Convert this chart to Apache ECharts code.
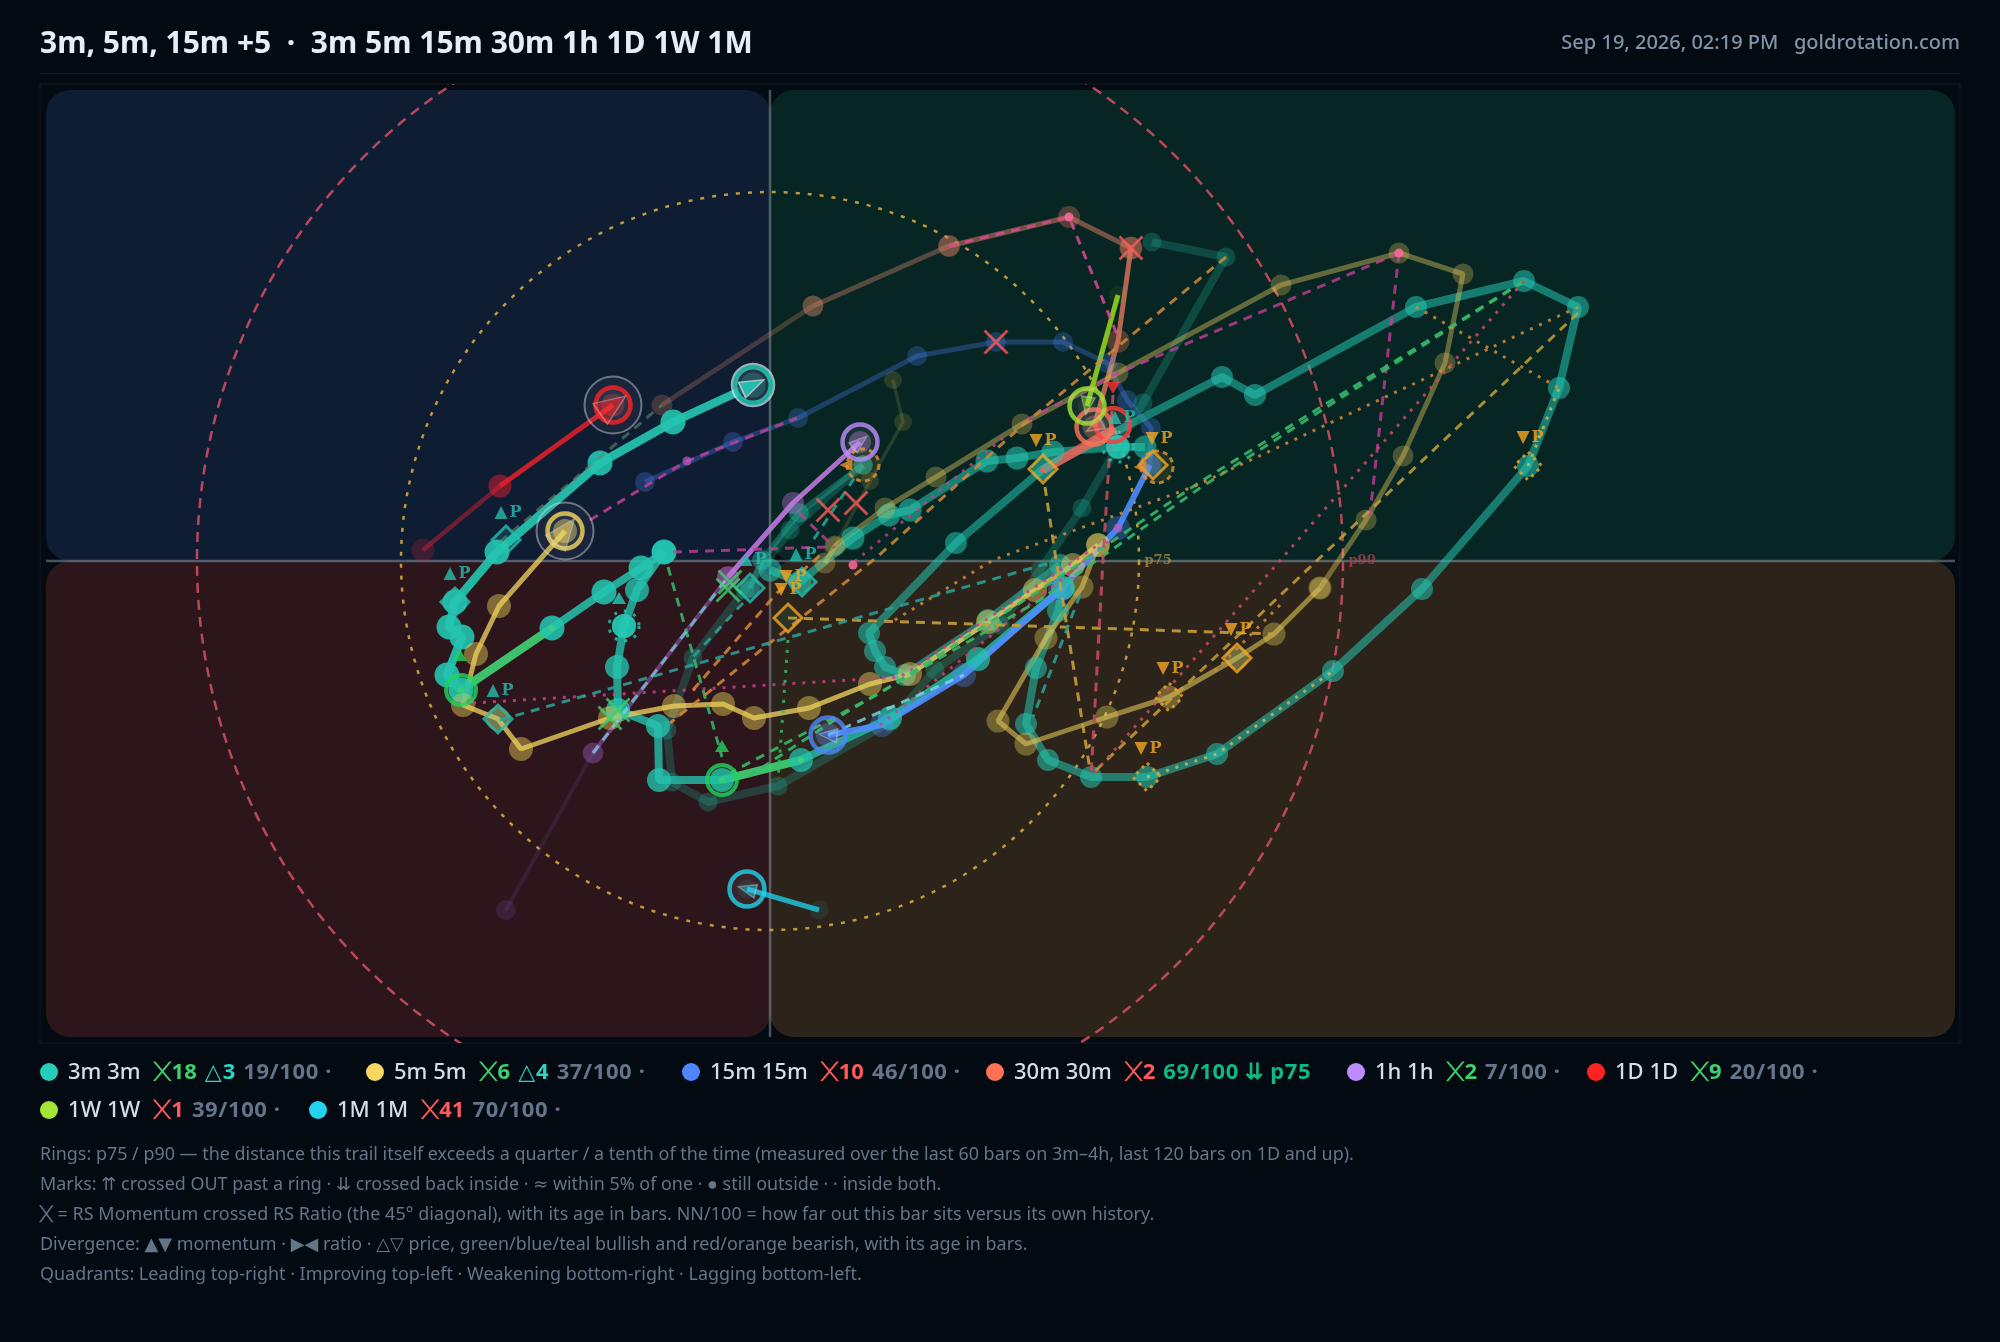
<!DOCTYPE html>
<html><head><meta charset="utf-8">
<script src="https://cdn.jsdelivr.net/npm/echarts@6/dist/echarts.min.js"></script>
<style>
html,body{margin:0;padding:0;background:#030a12;width:2000px;height:1342px;overflow:hidden;font-family:"Noto Sans",sans-serif}
#chart{position:absolute;left:0;top:0;width:2000px;height:1342px}
.t{position:absolute;white-space:pre}
#title{left:40px;top:22px;font-size:30px;font-weight:700;color:#e6edf7;line-height:40px}
#meta{right:40px;top:27px;font-size:20px;color:#8194a9;line-height:30px;font-weight:500}
#rule{position:absolute;left:40px;top:73px;width:1920px;height:1px;background:#10171f}
.leg{font-size:22px;line-height:30px;font-weight:500;color:#d5dde8}
.leg i{display:inline-block;width:18px;height:18px;border-radius:50%;margin-right:10px;vertical-align:-2px}
.leg b{font-weight:700}.g{color:#3ecf6e}.r{color:#ff5a5a}.c{color:#2dd4bf}.m{color:#64748b;font-weight:700;letter-spacing:.6px}.e{color:#10b981;font-weight:700;letter-spacing:.6px}
.leg span.g,.leg span.r,.leg span.c,.leg span.e,.leg span.m{margin-left:8px}
.leg .x{display:inline-block;font-family:"DejaVu Sans";font-size:27px;line-height:22px;transform:scaleY(.62);vertical-align:-1px;font-weight:400;margin-right:1px}
.leg .d{font-family:"DejaVu Sans";font-weight:400;margin-right:1px}
.note{left:40px;font-size:17.93px;color:#647588;line-height:26px}
.note .x{display:inline-block;font-family:"DejaVu Sans";font-size:21px;line-height:20px;transform:scaleY(.7);vertical-align:-1px}
.note .k{font-family:"DejaVu Sans"}
</style></head><body>
<div id="chart"></div>
<div class="t" id="title">3m, 5m, 15m +5  ·  3m 5m 15m 30m 1h 1D 1W 1M</div>
<div class="t" id="meta">Sep 19, 2026, 02:19 PM   goldrotation.com</div>
<div id="rule"></div>
<div class="t leg" style="left:40px;top:1055px"><i style="background:#26cdb8"></i>3m 3m <span class="g"><span class="x">╳</span><b>18</b></span><span class="c"><span class="d">△</span><b>3</b></span><span class="m">19/100 ·</span></div>
<div class="t leg" style="left:366px;top:1055px"><i style="background:#f6d860"></i>5m 5m <span class="g"><span class="x">╳</span><b>6</b></span><span class="c"><span class="d">△</span><b>4</b></span><span class="m">37/100 ·</span></div>
<div class="t leg" style="left:682px;top:1055px"><i style="background:#4f86ff"></i>15m 15m <span class="r"><span class="x">╳</span><b>10</b></span><span class="m">46/100 ·</span></div>
<div class="t leg" style="left:986px;top:1055px"><i style="background:#ff7355"></i>30m 30m <span class="r"><span class="x">╳</span><b>2</b></span><span class="e">69/100 ⇊ p75</span></div>
<div class="t leg" style="left:1347px;top:1055px"><i style="background:#bf8cff"></i>1h 1h <span class="g"><span class="x">╳</span><b>2</b></span><span class="m">7/100 ·</span></div>
<div class="t leg" style="left:1587px;top:1055px"><i style="background:#ff2222"></i>1D 1D <span class="g"><span class="x">╳</span><b>9</b></span><span class="m">20/100 ·</span></div>
<div class="t leg" style="left:40px;top:1093px"><i style="background:#a3e635"></i>1W 1W <span class="r"><span class="x">╳</span><b>1</b></span><span class="m">39/100 ·</span></div>
<div class="t leg" style="left:309px;top:1093px"><i style="background:#22d3ee"></i>1M 1M <span class="r"><span class="x">╳</span><b>41</b></span><span class="m">70/100 ·</span></div>
<div class="t note" style="top:1140px">Rings: p75 / p90 — the distance this trail itself exceeds a quarter / a tenth of the time (measured over the last 60 bars on 3m–4h, last 120 bars on 1D and up).</div>
<div class="t note" style="top:1170px">Marks: <span class="k">⇈</span> crossed OUT past a ring · <span class="k">⇊</span> crossed back inside · <span class="k">≈</span> within 5% of one · ● still outside · · inside both.</div>
<div class="t note" style="top:1200px;letter-spacing:.07px"><span class="x">╳</span> = RS Momentum crossed RS Ratio (the 45° diagonal), with its age in bars. NN/100 = how far out this bar sits versus its own history.</div>
<div class="t note" style="top:1230px">Divergence: <span class="k">▲▼</span> momentum · <span class="k">▶◀</span> ratio · <span class="k">△▽</span> price, green/blue/teal bullish and red/orange bearish, with its age in bars.</div>
<div class="t note" style="top:1260px">Quadrants: Leading top-right · Improving top-left · Weakening bottom-right · Lagging bottom-left.</div>
<script>
// Trails: [RS Ratio, RS Momentum]
const trail3mHead=[[99.83,101.76],[99.03,101.39],[98.30,100.98],[97.27,100.09],[96.85,99.59],[96.79,99.34],[96.92,99.24],[96.77,98.86],[96.91,98.71]];
const trail3mGreenA=[[96.91,98.71],[97.82,99.33]];
const trail3mB=[[97.82,99.33],[98.34,99.69],[98.71,99.93],[98.94,100.09]];
const trail3mC=[[98.94,100.09],[98.67,99.71],[98.54,99.35],[98.47,98.94],[98.48,98.51],[98.88,98.35],[98.89,97.81],[99.52,97.81]];
const trail3mGreenB=[[99.52,97.81],[100.31,98.01]];
const trail3mD=[[100.31,98.01],[101.20,98.43],[102.08,99.02],[102.93,99.73]];
const trail3mE=[[102.93,99.73],[102.88,99.50],[102.66,98.93],[102.56,98.37],[102.78,98.01],[103.21,97.84],[103.77,97.84],[104.47,98.07],[105.63,98.90],[106.52,99.72],[107.58,100.95],[107.89,101.73],[108.08,102.54],[107.54,102.80],[106.46,102.54],[104.85,101.66],[104.52,101.84],[102.73,100.92],[101.86,100.18],[100.99,99.28],[101.05,99.10],[101.15,98.94],[101.35,98.86],[102.18,99.41],[102.90,99.96]];
const trail3mF=[[103.75,101.14],[103.48,101.14],[102.83,101.09],[102.47,101.03],[102.17,101.00],[101.40,100.51],[101.19,100.46],[100.83,100.23],[100.30,99.79],[100.00,99.91]];
const trail3mDark=[[103.82,103.19],[104.56,103.04],[103.73,101.58],[103.12,100.53],[102.70,99.91],[102.30,99.36],[101.65,98.91],[101.20,98.39],[100.08,97.75],[99.38,97.59],[99.02,97.79],[98.97,98.31],[99.23,99.03],[99.75,99.71],[100.20,100.31],[100.93,100.96]];
const trail3mG=[[100.93,100.96],[100.29,100.48],[99.92,100.01],[99.80,99.73]];
const trail5mA=[[97.95,100.30],[97.29,99.55],[97.06,99.07],[96.93,98.56],[97.28,98.42],[97.51,98.12],[98.40,98.43],[99.04,98.55],[99.53,98.57],[99.84,98.43],[100.39,98.53],[101.00,98.77],[101.40,98.87],[102.18,99.39],[102.65,99.71],[103.03,99.96],[103.28,100.16]];
const trail5mB=[[103.28,100.16],[103.12,99.74],[102.76,99.23],[102.28,98.40],[102.56,98.17],[103.37,98.44],[103.99,98.64],[104.67,99.03],[105.04,99.27],[105.50,99.73]];
const trail5mC=[[105.50,99.73],[105.96,100.41],[106.33,101.05],[106.75,101.98],[106.93,102.87],[106.29,103.08],[105.11,102.76],[103.48,101.88],[102.52,101.37],[101.66,100.84],[101.15,100.53],[100.65,100.15],[100.55,99.98]];
const trail5mD=[[100.65,100.15],[101.00,100.80],[101.33,101.39],[101.23,101.81]];
const trail15mA=[[100.58,98.26],[101.12,98.36],[101.94,98.86],[102.90,99.71],[103.48,100.33],[103.80,100.96]];
const trail15mB=[[103.80,100.96],[103.81,101.33],[103.57,101.61],[103.37,101.98],[102.93,102.19],[102.26,102.19],[101.47,102.05],[100.28,101.43],[99.63,101.19],[98.75,100.79]];
const trail30mA=[[98.92,101.56],[100.43,102.55]];
const trail30mB=[[100.43,102.55],[101.79,103.15]];
const trail30mC=[[101.79,103.15],[102.99,103.44],[103.61,103.13]];
const trail30mD=[[103.61,103.13],[103.48,102.20],[103.24,101.34]];
const trail30mHot=[[103.43,101.31],[102.73,100.91]];
const trail1hA=[[100.90,101.19],[100.23,100.58],[99.58,99.84]];
const trail1hB=[[99.58,99.84],[98.23,98.08]];
const trail1hC=[[98.23,98.08],[97.36,96.51]];
const trail1dA=[[98.43,101.56],[97.30,100.75]];
const trail1dB=[[97.30,100.75],[96.53,100.11]];
const trail1w=[[103.17,101.55],[103.48,102.66]];
const trail1m=[[99.77,96.72],[100.49,96.51]];
// Overlay links
const pinkDash1=[[98.20,100.41],[99.17,101.00],[100.27,101.43]];
const pinkDash2=[[101.79,103.15],[102.99,103.44],[103.48,102.24]];
const pinkDash3=[[106.29,103.08],[103.48,101.88],[102.53,101.39]];
const pinkDash4=[[106.29,103.08],[105.99,100.38]];
const pinkDash5=[[99.03,100.09],[100.57,100.14]];
const pinkDash6=[[100.29,100.48],[100.65,100.13]];
const pinkDot1=[[97.03,98.58],[101.30,98.84],[103.28,100.16]];
const pinkDot2=[[102.33,101.23],[100.83,99.98]];
const pinkDot3=[[101.10,98.36],[103.40,100.21]];
const greenDash1=[[107.54,102.80],[104.30,100.79],[102.70,99.71],[101.10,98.68],[99.60,97.88]];
const greenDash2=[[107.54,102.80],[104.30,100.73],[102.70,99.61],[100.80,98.51],[99.73,97.81]];
const greenDash3=[[98.98,99.94],[99.52,98.04]];
const greenDot=[[100.18,99.21],[100.08,97.81]];
const orangeDash1=[[104.56,103.04],[102.53,101.36],[101.07,100.04],[99.00,98.38]];
const orangeDash2=[[99.23,98.71],[100.07,99.68],[100.55,100.10]];
const amberDash1=[[108.08,102.48],[103.23,97.88]];
const amberDash2=[[100.18,99.43],[105.04,99.27]];
const amberDash3=[[102.75,100.74],[102.85,100.08],[102.97,99.34],[103.20,97.91]];
const orangeDot1=[[108.08,102.54],[104.23,100.74],[102.23,100.01],[101.20,99.38]];
const orangeDot2=[[106.46,102.54],[107.89,101.73]];
const orangeDot3=[[105.10,99.56],[104.43,98.88]];
const redDash=[[103.43,101.66],[103.33,100.01],[103.21,97.84]];
const redDot=[[107.54,102.80],[103.21,97.84]];
const tealDash1=[[97.30,98.41],[102.90,100.01]];
const tealDash2=[[103.10,99.66],[102.63,98.44]];
const tealDash3=[[99.73,99.58],[99.23,99.04]];
const tealDash4=[[100.93,100.96],[100.40,100.16]];
const skyDash1=[[98.23,98.08],[99.58,99.84]];
const skyDash2=[[100.58,98.26],[101.94,98.86]];
const sandDot1=[[103.77,97.84],[104.47,98.07],[105.63,98.90]];
const sandDot2=[[107.58,100.95],[107.89,101.73]];
const mossDash=[[97.30,100.19],[98.92,101.56]];
// Marks
const tealDiamonds=[[96.85,99.59],[97.36,100.21],[97.28,98.42],[99.80,99.73],[100.32,99.79]];
const amberDiamonds=[[100.18,99.43],[102.73,100.92],[104.67,99.03],[103.83,100.96]];
const amberDotDiamonds=[[107.58,100.95],[103.99,98.64],[103.77,97.84]];
const amberRings=[[100.93,100.96],[103.87,100.94]];
const amberLeft=[[100.76,100.96],[103.70,100.94]];
const tealSpikes=[[98.54,99.35],[103.48,101.14]];
const upP=[[97.38,100.48],[96.87,99.87],[97.30,98.70],[99.83,100.01],[100.33,100.06],[103.52,101.43]];
const downP=[[102.73,101.20],[103.89,101.22],[107.60,101.23],[104.68,99.31],[104.00,98.92],[103.78,98.12],[100.23,99.84],[100.18,99.71]];
const greenUps=[[96.90,99.06],[99.52,98.15]];
const tealUps=[[98.49,99.63]];
const redDowns=[[103.43,101.73]];
const redCross=[[102.26,102.19],[103.61,103.13],[100.58,100.51],[100.86,100.58]];
const greenCross=[[99.60,99.79],[99.58,99.71],[98.48,98.51],[98.40,98.43]];
const pinkSpots=[[100.83,99.96],[106.29,103.08],[102.99,103.44]];
const mauveSpots=[[99.17,101.00],[103.48,100.33]];
const ringValues=[3.69,5.73];
// Heads
const headNames=['3m','5m','15m','30m','1h','1D','1W','1M'];
const headColors=['#26cdb8','#f6d860','#4f86ff','#ff7355','#bf8cff','#ff2222','#a3e635','#22d3ee'];
const headPoints=[[99.83,101.76],[97.95,100.30],[100.58,98.26],[103.24,101.34],[100.90,101.19],[98.43,101.56],[103.17,101.55],[99.77,96.72]];
const headAngles=[-65,-38,85,120,-50,-55,172,75];
const xRange=[92.70,111.90], yRange=[95.18,104.77];
const innerX=[92.76,100,111.85], innerY=[95.24,100,104.71];
const CROSS='path://M0,8L8,0L50,42L92,0L100,8L58,50L100,92L92,100L50,58L8,100L0,92L42,50Z';

const series=[];
series.push({type:'custom',silent:true,z:1,clip:true,data:[[0]],coordinateSystem:'cartesian2d',renderItem(p,api){
  const a=api.coord([innerX[0],innerY[2]]),m=api.coord([innerX[1],innerY[1]]),b=api.coord([innerX[2],innerY[0]]);
  const q=(x0,y0,x1,y1,f)=>({type:'rect',shape:{x:x0,y:y0,width:x1-x0,height:y1-y0,r:24},style:{fill:f}});
  const rr=api.size([1,0])[0];
  const ring=(v,col,dash,op)=>({type:'circle',shape:{cx:m[0],cy:m[1],r:v*rr},style:{fill:'none',stroke:col,lineWidth:2.5,lineDash:dash,opacity:op}});
  return {type:'group',children:[
    q(a[0],a[1],m[0],m[1],'#0f1d33'),q(m[0],a[1],b[0],m[1],'#072523'),
    q(a[0],m[1],m[0],b[1],'#2c161b'),q(m[0],m[1],b[0],b[1],'#2c241a'),
    {type:'line',shape:{x1:a[0],y1:m[1],x2:b[0],y2:m[1]},style:{stroke:'rgba(190,200,210,.38)',lineWidth:2.5}},
    {type:'line',shape:{x1:m[0],y1:a[1],x2:m[0],y2:b[1]},style:{stroke:'rgba(190,200,210,.38)',lineWidth:2.5}},
    ring(ringValues[0],'#c9a03c',[4,8],.95),ring(ringValues[1],'#c34a5e',[10,7],.95)
  ]};
}});
function trail(d,color,w,op,dot,dotOp,z){
  series.push({type:'line',data:d,z:z||3,silent:true,animation:false,showAllSymbol:true,symbol:'circle',symbolSize:dot,
    lineStyle:{color,width:w,opacity:op},itemStyle:{color,opacity:dotOp}});
}
function link(d,color,w,dash,op){
  series.push({type:'line',data:d,z:4,silent:true,symbol:'none',lineStyle:{color,width:w,type:dash,opacity:op}});
}
const D=[9,7],DD=[3,7];
trail(trail3mDark,'#1fa895',8,.28,19,.3);
trail(trail5mD,'#c9b24c',3.5,.18,18,.18);
trail(trail15mB,'#4f86ff',5,.3,20,.26);
trail(trail1hC,'#8a5fd0',4,.14,20,.16);
trail(trail30mA,'#d68a66',5,.28,21,.24);
trail(trail30mB,'#d68a66',5,.38,21,.28);
trail(trail30mC,'#d0785f',5,.55,22,.35);
trail(trail30mD,'#e0775a',5,.8,23,.33);
trail(trail3mE,'#24c4b0',8,.55,22,.55);
trail(trail3mF,'#24c4b0',8,.58,23,.58);
trail(trail3mG,'#24c4b0',6,.35,20,.4);
trail(trail5mC,'#e3c85a',5,.42,21,.3);
trail(trail5mB,'#e3c85a',5,.58,23,.38);
trail(trail3mD,'#24c4b0',8,.78,24,.72);
trail(trail3mC,'#24c4b0',8,.78,24,.78);
trail(trail3mB,'#24c4b0',8,.85,25,.88);
trail(trail3mHead,'#24c4b0',8.5,.92,25,.9);
trail(trail3mGreenA,'#3fd476',8.5,.9,6,.9);
trail(trail3mGreenB,'#3fd476',8.5,.9,6,.9);
trail(trail5mA,'#ecd05c',5,.78,24,.45);
trail(trail15mA,'#4f8dff',6,.9,24,.32);
trail(trail1hB,'#b06ee0',4,.45,21,.26);
trail(trail1hA,'#c77ee6',5,.85,22,.36);
trail(trail1dB,'#e02030',4.5,.45,23,.22);
trail(trail1dA,'#e82028',5,.85,23,.34);
trail(trail30mHot,'#ff5a50',9,.78,6,.8);
trail(trail1w,'#8fd41f',5,.9,18,.08);
trail(trail1m,'#1fc2dc',5,.85,19,.1);

link(pinkDash1,'#c03f95',3,D,.85);link(pinkDash2,'#d84a95',3,D,.85);link(pinkDash3,'#c03f95',3,D,.8);
link(pinkDash4,'#c03f95',3,D,.8);link(pinkDash5,'#c03f95',3,D,.8);link(pinkDash6,'#c03f95',3,D,.8);
link(pinkDot1,'#d03c8e',3,DD,.85);link(pinkDot2,'#d03c8e',3,DD,.8);link(pinkDot3,'#d03c8e',3,DD,.8);
link(greenDash1,'#37b768',3,D,.9);link(greenDash2,'#37b768',3,D,.9);link(greenDash3,'#37b768',3,D,.85);link(greenDot,'#37b768',3,DD,.85);
link(orangeDash1,'#d48a36',3,D,.85);link(orangeDash2,'#d48a36',3,D,.85);
link(amberDash1,'#c79d3a',3,D,.85);link(amberDash2,'#c79d3a',3,D,.9);link(amberDash3,'#c79d3a',3,D,.9);
link(orangeDot1,'#d48a36',3,DD,.85);link(orangeDot2,'#d48a36',3,DD,.85);link(orangeDot3,'#d48a36',3,DD,.85);
link(redDash,'#c34a5e',3,D,.9);link(redDot,'#c34a5e',3,DD,.9);
link(tealDash1,'#2a9c92',3,D,.9);link(tealDash2,'#2a9c92',3,D,.9);link(tealDash3,'#2a9c92',3,D,.9);link(tealDash4,'#2a9c92',3,D,.9);
link(skyDash1,'#7fd8ea',3,D,.7);link(skyDash2,'#7fd8ea',3,D,.8);
link(sandDot1,'#d8b85a',3,DD,.8);link(sandDot2,'#d8b85a',3,DD,.8);
link(mossDash,'#5f8a6a',3,D,.6);

function marks(d,symbol,size,style,z,extra){
  series.push(Object.assign({type:'scatter',data:d,symbol,symbolSize:size,silent:true,z:z||6,itemStyle:style},extra||{}));
}
marks(pinkSpots,'circle',9,{color:'#ff6aa0',opacity:.85},5);
marks(mauveSpots,'circle',9,{color:'#c05ac0',opacity:.7},5);
marks(tealDiamonds,'diamond',[28,28],{color:'rgba(38,205,184,.22)',borderColor:'#26bdb0',borderWidth:3});
marks(amberDiamonds,'diamond',[28,28],{color:'rgba(38,205,184,.1)',borderColor:'#f5a623',borderWidth:3});
marks(amberDotDiamonds,'diamond',[28,28],{color:'rgba(0,0,0,0)',borderColor:'#f5a623',borderWidth:3,borderType:[3,5]});
marks(amberRings,'circle',32,{color:'rgba(240,168,48,.14)',borderColor:'#e8932c',borderWidth:3,borderType:[5,4]});
marks(amberLeft,'triangle',[12,13],{color:'#e8932c'},6,{symbolRotate:90});
marks(tealSpikes,'circle',24,{color:'rgba(38,205,184,.85)'});
marks(tealSpikes,'circle',30,{color:'rgba(0,0,0,0)',borderColor:'#26cdb8',borderWidth:3,borderType:[3,7]});
marks(greenUps,'triangle',[14,12],{color:'#22d35e'});
marks(tealUps,'triangle',[14,12],{color:'#26cdb8'});
marks(redDowns,'triangle',[14,12],{color:'#ff3030'},6,{symbolRotate:180});
marks(redCross,CROSS,25,{color:'#ff5a5a'},8);
marks(greenCross,CROSS,25,{color:'#3ecf6e'},8);
const pLabel=(mark,col)=>({show:true,formatter:'{a|'+mark+'}{b|P}',position:'inside',rich:{
  a:{fontFamily:'"DejaVu Sans",sans-serif',fontSize:17,color:col},
  b:{fontFamily:'"DejaVu Serif",serif',fontWeight:700,fontSize:16,color:col,padding:[0,0,0,2]}}});
const ringLabel=(txt,col)=>({show:true,formatter:txt,position:'right',distance:6,fontFamily:'"DejaVu Serif",serif',fontWeight:700,fontSize:13,color:col});
marks(upP,'circle',1,{color:'rgba(0,0,0,0)'},9,{label:pLabel('▲','#26bdb0')});
marks(downP,'circle',1,{color:'rgba(0,0,0,0)'},9,{label:pLabel('▼','#f5a623')});
marks([[103.68,100.00]],'circle',1,{color:'rgba(0,0,0,0)'},9,{label:ringLabel('p75','#a98a3a')});
marks([[105.72,100.00]],'circle',1,{color:'rgba(0,0,0,0)'},9,{label:ringLabel('p90','#a8404f')});

// extra red ring behind 30m
marks([[103.43,101.36]],'circle',34,{color:'rgba(255,255,255,.12)',borderColor:'#ff3a3a',borderWidth:4.5},7);
// halos for heads that carry one
marks([headPoints[0]],'circle',42,{color:'rgba(0,0,0,0)',borderColor:'rgba(235,240,245,.85)',borderWidth:2.5},7);
marks([headPoints[1],headPoints[5]],'circle',57,{color:'rgba(255,255,255,.05)',borderColor:'rgba(220,225,235,.55)',borderWidth:2},7);
const triSizes=[[17,24],[25,31],[14,18],[14,18],[13,18],[25,31],[14,18],[14,18]];
headPoints.forEach((p,i)=>{
  series.push({type:'scatter',name:headNames[i],data:[p],symbol:'circle',symbolSize:i===0?36:35,silent:true,z:8,
    itemStyle:{color:i===0?'rgba(42,59,77,.95)':'rgba(255,255,255,.08)',borderColor:headColors[i],borderWidth:i===0?5:4.5}});
  series.push({type:'scatter',data:[p],symbol:'triangle',symbolSize:triSizes[i],symbolRotate:headAngles[i],silent:true,z:9,
    itemStyle:{color:headColors[i],opacity:i===0?.85:.42,borderColor:'#c8cfd8',borderWidth:1.5}});
});
const greenHeads=[[96.91,98.71],[99.52,97.81]];
marks(greenHeads,'circle',30,{color:'rgba(30,200,120,.25)',borderColor:'#22d35e',borderWidth:4},8);

const chart=echarts.init(document.getElementById('chart'),null,{renderer:'canvas'});
chart.setOption({animation:false,backgroundColor:'transparent',
  grid:{left:40,top:84,width:1920,height:959,show:true,borderColor:'#141b25',borderWidth:1,backgroundColor:'#030a12'},
  xAxis:{type:'value',min:xRange[0],max:xRange[1],show:false},
  yAxis:{type:'value',min:yRange[0],max:yRange[1],show:false},
  tooltip:{show:false},legend:{show:false},series});
</script></body></html>
